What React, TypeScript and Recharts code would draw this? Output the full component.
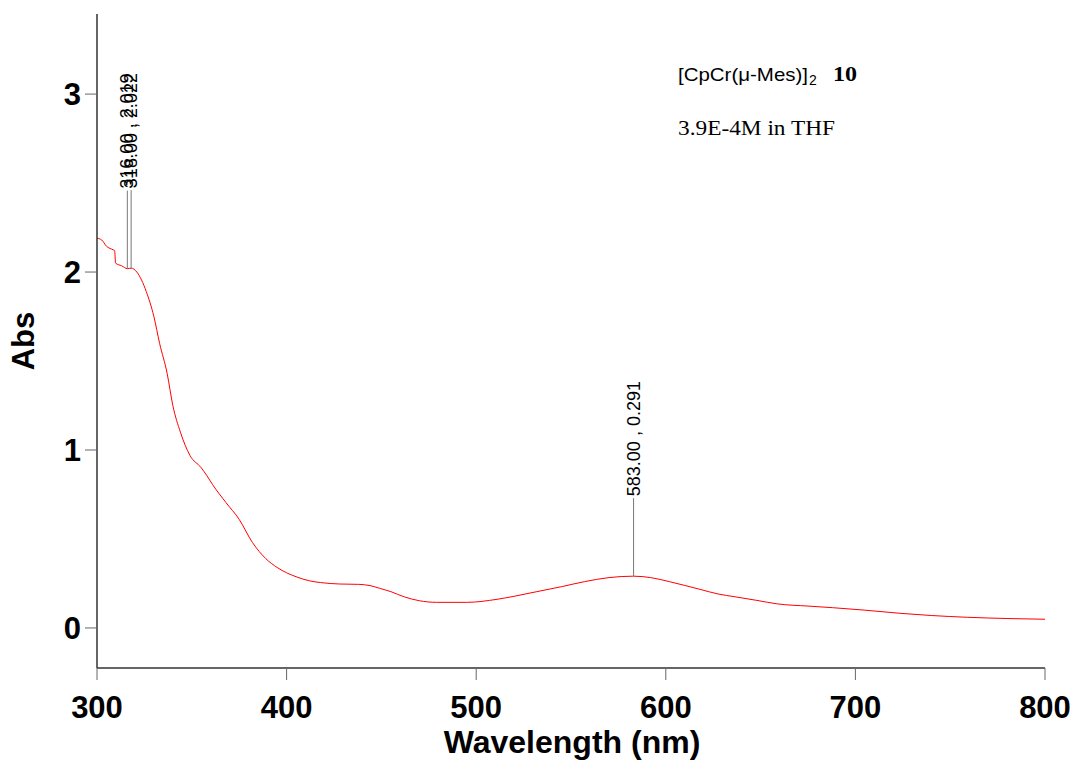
import React from "react";
import { ComposedChart, Line, Scatter, XAxis, YAxis } from "recharts";

const wavelengths = [300, 302.5, 305, 308.5, 309.3, 309.8, 313, 316, 318, 321, 323.5, 326, 330, 333, 337, 340, 344, 349, 355, 358, 361, 368, 375, 382, 389, 395, 400, 405, 412, 418, 428, 438, 444, 449, 455, 462, 470, 479, 495, 511, 520, 532, 545, 557, 570, 583, 592, 602, 618, 628, 636, 648, 659, 675, 688, 705, 724, 740, 759, 780, 800];
const absorbance = [2.19, 2.18, 2.145, 2.125, 2.12, 2.05, 2.035, 2.019, 2.022, 2.0, 1.955, 1.89, 1.75, 1.6, 1.43, 1.25, 1.1, 0.97, 0.9, 0.855, 0.805, 0.705, 0.61, 0.48, 0.39, 0.34, 0.31, 0.288, 0.265, 0.255, 0.247, 0.245, 0.238, 0.223, 0.204, 0.175, 0.153, 0.144, 0.144, 0.161, 0.178, 0.204, 0.232, 0.26, 0.283, 0.291, 0.283, 0.26, 0.217, 0.19, 0.176, 0.155, 0.135, 0.123, 0.114, 0.1, 0.082, 0.07, 0.06, 0.053, 0.049];

const peakWavelengths = [316, 318, 583];
const peakAbs = [2.019, 2.022, 0.291];

const xTicks = [300, 400, 500, 600, 700, 800];
const yTicks = [0, 1, 2, 3];

const curve = wavelengths.map((wl, i) => ({ wl, abs: absorbance[i] }));
const peaks = peakWavelengths.map((wl, i) => ({ wl, abs: peakAbs[i], label: `${wl.toFixed(2)} , ${peakAbs[i].toFixed(3)}` }));

const sans = "'Liberation Sans', Arial, sans-serif";
const serif = "'Liberation Serif', 'Times New Roman', serif";

const PeakMarker = (props: any) => {
  const { cx, cy, payload } = props;
  if (cx == null || cy == null) return null;
  const top = cy - 78;
  return (
    <g>
      <line x1={cx} y1={cy} x2={cx} y2={top} stroke="#777" strokeWidth={1} />
      <text
        x={cx + 6}
        y={top - 2}
        transform={`rotate(-90, ${cx + 6}, ${top - 2})`}
        fontFamily={sans}
        fontSize={18}
        fill="#000"
        textAnchor="start"
      >
        {payload.label}
      </text>
    </g>
  );
};

export default function App() {
  return (
    <div style={{ position: "absolute", left: 0, top: 0, width: 1074, height: 760, background: "#fff" }}>
      <ComposedChart width={1074} height={760} data={curve} margin={{ top: 14, right: 29, bottom: 32, left: 37 }}>
        <XAxis
          dataKey="wl"
          type="number"
          domain={[300, 800]}
          ticks={xTicks}
          allowDataOverflow
          height={60}
          tickSize={12}
          tickMargin={16}
          axisLine={{ stroke: "#333", strokeWidth: 1.5 }}
          tickLine={{ stroke: "#666", strokeWidth: 1 }}
          tick={{ fontSize: 31, fontWeight: "bold", fill: "#000", fontFamily: sans }}
        />
        <YAxis
          type="number"
          domain={[-0.225, 3.45]}
          ticks={yTicks}
          allowDataOverflow
          width={60}
          tickSize={12}
          tickMargin={4}
          axisLine={{ stroke: "#333", strokeWidth: 1.5 }}
          tickLine={{ stroke: "#666", strokeWidth: 1 }}
          tick={{ fontSize: 31, fontWeight: "bold", fill: "#000", fontFamily: sans }}
        />
        <Line dataKey="abs" type="monotone" stroke="#ff0000" strokeWidth={1} dot={false} isAnimationActive={false} />
        <Scatter data={peaks} dataKey="abs" shape={<PeakMarker />} isAnimationActive={false} />
      </ComposedChart>
      <svg width={1074} height={760} style={{ position: "absolute", left: 0, top: 0, pointerEvents: "none" }}>
        <text x={572} y={753} textAnchor="middle" fontFamily={sans} fontWeight="bold" fontSize={32} fill="#000">
          Wavelength (nm)
        </text>
        <text x={34} y={341} transform="rotate(-90, 34, 341)" textAnchor="middle" fontFamily={sans} fontWeight="bold" fontSize={31} fill="#000">
          Abs
        </text>
        <text x={678} y={81} fontFamily={sans} fontSize={19} fill="#000" textLength={130} lengthAdjust="spacingAndGlyphs">
          [CpCr(μ-Mes)]
        </text>
        <text x={809} y={85} fontFamily={sans} fontSize={14} fill="#000">
          2
        </text>
        <text x={833} y={81} fontFamily={serif} fontWeight="bold" fontSize={20} fill="#000" textLength={24} lengthAdjust="spacingAndGlyphs">
          10
        </text>
        <text x={678} y={135} fontFamily={serif} fontSize={22} fill="#000" textLength={157} lengthAdjust="spacingAndGlyphs">
          3.9E-4M in THF
        </text>
      </svg>
    </div>
  );
}
